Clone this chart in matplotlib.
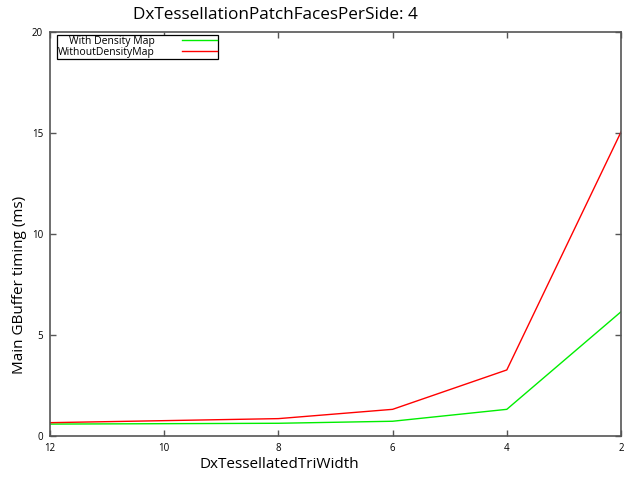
import matplotlib
matplotlib.use("Agg")
import matplotlib.pyplot as plt

tri_width = [12, 8, 6, 4, 2]
with_density = [0.59, 0.63, 0.73, 1.32, 6.15]
without_density = [0.66, 0.86, 1.32, 3.27, 15.05]
x_ticks = [12, 10, 8, 6, 4, 2]
y_ticks = [0, 5, 10, 15, 20]

plt.rcParams['font.family'] = ['Open Sans', 'DejaVu Sans']

fig = plt.figure(figsize=(6.25, 4.79), dpi=100)
ax = fig.add_axes([50/625, 1-436/479, (621-50)/625, (436-32)/479])

ax.plot(tri_width, with_density, color='#00ee00', lw=1.0, label='With Density Map')
ax.plot(tri_width, without_density, color='#ff0000', lw=1.0, label='WithoutDensityMap')

ax.set_xlim(12, 2)
ax.set_ylim(0, 20)
ax.set_xticks(x_ticks)
ax.set_yticks(y_ticks)
ax.tick_params(direction='in', length=4, width=1, colors='#555555', labelcolor='black',
               labelsize=7, top=True, right=True, pad=5)
for s in ax.spines.values():
    s.set_color('#555555')
    s.set_linewidth(1.2)

leg = ax.legend(loc='upper left', bbox_to_anchor=(0.01, 0.995), markerfirst=False,
                fancybox=False, edgecolor='black', fontsize=7.5, borderpad=0.1,
                labelspacing=0.0, handlelength=3.4, handletextpad=2.6, borderaxespad=0.1,
                framealpha=1)
leg.get_frame().set_linewidth(0.9)

fig.text(275/625, 1-15/479, 'DxTessellationPatchFacesPerSide: 4', ha='center', va='center', fontsize=12.3)
fig.text(279/625, 1-465/479, 'DxTessellatedTriWidth', ha='center', va='center', fontsize=11)
fig.text(20/625, 1-285/479, 'Main GBuffer timing (ms)', ha='center', va='center', rotation=90, fontsize=11)

fig.savefig('out.png', dpi=100)
